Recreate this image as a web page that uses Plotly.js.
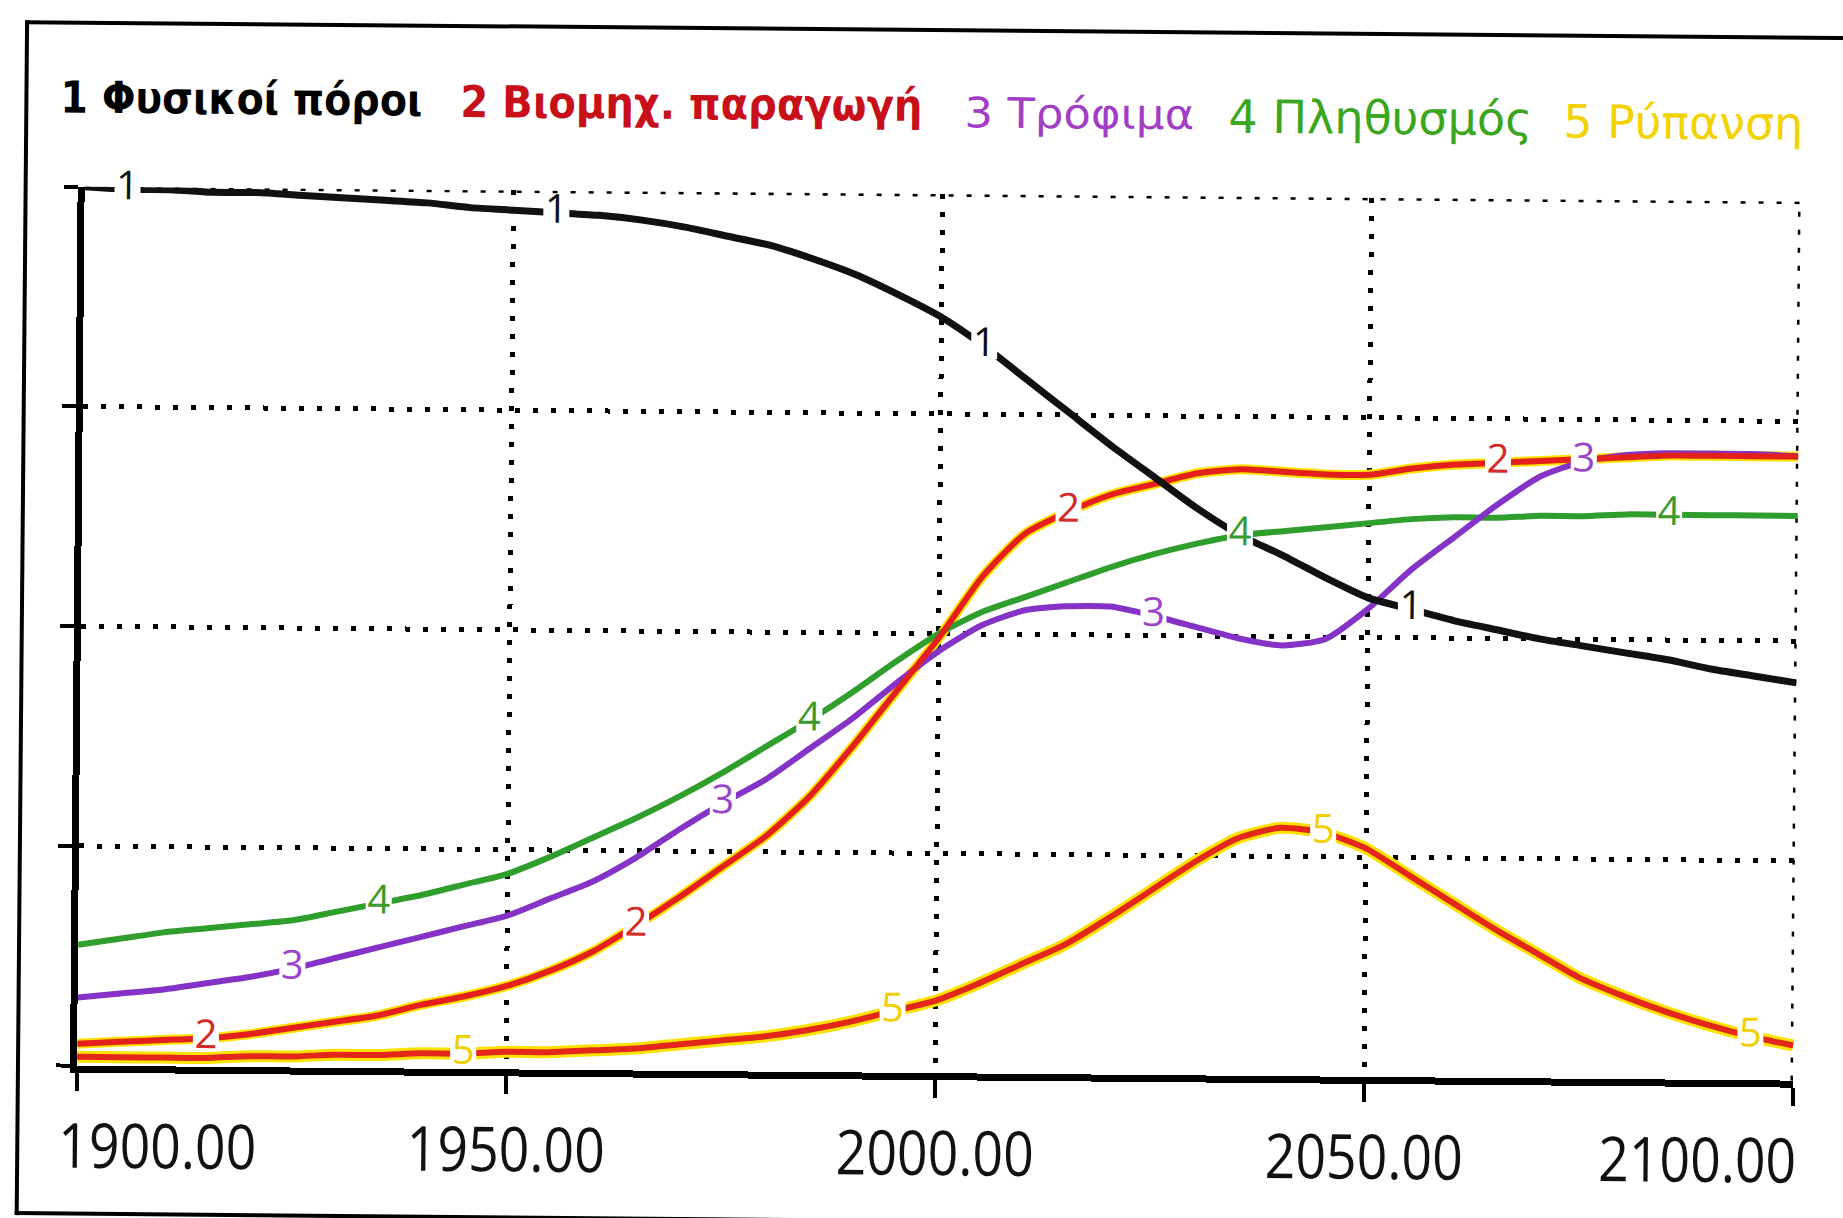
<!DOCTYPE html>
<html>
<head>
<meta charset="utf-8">
<script src="https://cdn.plot.ly/plotly-3.0.1.min.js"></script>
<style>
html,body{margin:0;padding:0;background:#fff;overflow:hidden;width:1843px;height:1218px;}
#wrap{position:absolute;left:0;top:0;width:1843px;height:1218px;transform:rotate(0.5deg);transform-origin:921px 609px;}
#chart{position:absolute;left:0;top:0;width:1843px;height:1218px;}
#frame{position:absolute;left:20px;top:28px;width:1900px;height:1187px;border:4px solid #000;border-right:none;pointer-events:none;}
</style>
</head>
<body>
<div id="wrap"><div id="chart"></div><div id="frame"></div></div>
<script>
// ---- data ----
const years = [1900,1905,1910,1915,1920,1925,1930,1935,1940,1945,1950,1955,1960,1965,1970,1975,1980,1985,1990,1995,
               2000,2005,2010,2015,2020,2025,2030,2035,2040,2045,2050,2055,2060,2065,2070,2075,2080,2085,2090,2095,2100];

const resources  = [4.00,3.99,3.99,3.98,3.98,3.97,3.96,3.95,3.94,3.92,3.91,3.90,3.89,3.87,3.84,3.80,3.76,3.70,3.63,3.54,
                    3.44,3.31,3.16,3.01,2.86,2.72,2.58,2.46,2.37,2.27,2.18,2.13,2.08,2.04,2.00,1.97,1.94,1.91,1.87,1.84,1.81];
const industry   = [0.10,0.11,0.12,0.13,0.15,0.18,0.21,0.24,0.29,0.33,0.38,0.45,0.54,0.66,0.79,0.93,1.07,1.25,1.48,1.73,
                    1.98,2.26,2.46,2.56,2.64,2.69,2.74,2.76,2.75,2.74,2.74,2.77,2.79,2.80,2.81,2.82,2.83,2.84,2.84,2.84,2.84];
const food       = [0.31,0.33,0.35,0.38,0.41,0.45,0.50,0.55,0.60,0.65,0.70,0.78,0.86,0.97,1.10,1.22,1.33,1.47,1.61,1.77,
                    1.92,2.04,2.11,2.13,2.13,2.09,2.04,1.99,1.96,1.99,2.13,2.31,2.46,2.61,2.74,2.81,2.84,2.85,2.85,2.85,2.84];
const population = [0.55,0.58,0.61,0.63,0.65,0.67,0.71,0.75,0.79,0.84,0.89,0.97,1.06,1.15,1.25,1.36,1.48,1.60,1.73,1.87,
                    2.00,2.10,2.17,2.24,2.31,2.37,2.42,2.46,2.48,2.50,2.52,2.54,2.55,2.55,2.56,2.56,2.57,2.57,2.57,2.57,2.57];
const pollution  = [0.04,0.04,0.04,0.04,0.05,0.05,0.06,0.06,0.07,0.07,0.08,0.08,0.09,0.10,0.12,0.14,0.16,0.19,0.23,0.28,
                    0.33,0.41,0.50,0.59,0.71,0.84,0.97,1.08,1.13,1.11,1.04,0.92,0.80,0.68,0.57,0.46,0.38,0.31,0.25,0.20,0.16];

const seriesNumbers = ['1','2','3','4','5'];
const seriesNames   = ['Φυσικοί πόροι','Βιομηχ. παραγωγή','Τρόφιμα','Πληθυσμός','Ρύπανση'];

const labelYears1 = [1905,1955,2005,2055];
const labelYears2 = [1915,1965,2015,2065];
const labelYears3 = [1925,1975,2025,2075];
const labelYears4 = [1935,1985,2035,2085];
const labelYears5 = [1945,1995,2045,2095];

const xTickYears  = [1900,1950,2000,2050,2100];
const xTickLabels = ['1900.00','1950.00','2000.00','2050.00','2100.00'];
const yTickVals   = [0,1,2,3,4];

// ---- styles ----
const lineColors  = ['#111111','#e3201b','#8533c6','#2f9e2c','#e3281b'];
const haloColor   = '#ffe200';
const labelColors = ['#111111','#d42a2a','#9a45c8','#3a9a2c','#f0cf00'];
const legendColors= ['#000000','#c8101a','#a23ec6','#3aa620','#f2d200'];

const allSeries = [resources, industry, food, population, pollution];
const allLabelYears = [labelYears1, labelYears2, labelYears3, labelYears4, labelYears5];

const traces = [];
// yellow halos under series 2 and 5
traces.push({x: years, y: industry, mode: 'lines', line: {color: haloColor, width: 10, shape: 'spline', smoothing: 0.6}, hoverinfo: 'skip', showlegend: false});
traces.push({x: years, y: pollution, mode: 'lines', line: {color: haloColor, width: 12, shape: 'spline', smoothing: 0.6}, hoverinfo: 'skip', showlegend: false});

const widths = [7, 6, 6, 6, 6];
const drawOrder = [3, 2, 4, 1, 0];
drawOrder.forEach(i => {
  traces.push({
    x: years, y: allSeries[i], mode: 'lines', name: seriesNames[i],
    line: {color: lineColors[i], width: widths[i], shape: 'spline', smoothing: 0.6},
    showlegend: false
  });
});

// number labels on the curves (values looked up from the series)
allSeries.forEach((vals, i) => {
  const ly = allLabelYears[i];
  traces.push({
    x: ly,
    y: ly.map(yr => vals[years.indexOf(yr)]),
    mode: 'markers+text',
    text: ly.map(() => seriesNumbers[i]),
    textposition: 'middle center',
    textfont: {family: 'Open Sans, sans-serif', size: 40, color: labelColors[i]},
    marker: {symbol: 'square', size: 26, color: '#ffffff', line: {width: 0}},
    cliponaxis: false,
    hoverinfo: 'skip',
    showlegend: false
  });
});

// plot-area geometry (pixels) used for paper coordinates of text
const L = 81, R = 1797, T = 194, B = 1073;
const px2paperX = px => (px - L) / (R - L);
const px2paperY = py => (B - py) / (B - T);

const annotations = [];
const fitWidths = [];
// legend line at top
const legendLeft   = [54, 454, 958, 1222, 1557];
const legendMidY   = [105, 106, 112, 114, 116];
const legendWidths = [362, 462, 230, 304, 240];
const legendSizes  = [44, 44, 42, 46, 46];
seriesNames.forEach((nm, i) => {
  const bold = i < 2;
  annotations.push({
    xref: 'paper', yref: 'paper',
    x: px2paperX(legendLeft[i]), y: px2paperY(legendMidY[i]),
    xanchor: 'left', yanchor: 'middle', align: 'left', showarrow: false,
    text: bold ? '<b>' + seriesNumbers[i] + ' ' + nm + '</b>' : seriesNumbers[i] + ' ' + nm,
    font: {family: 'DejaVu Sans, sans-serif', size: legendSizes[i], color: legendColors[i]}
  });
  fitWidths.push(legendWidths[i]);
});
// x tick labels
xTickYears.forEach((yr, k) => {
  const first = k === 0, last = k === xTickYears.length - 1;
  const side = first ? 'left' : (last ? 'right' : 'center');
  annotations.push({
    xref: 'x', yref: 'paper', x: yr, y: 0,
    xanchor: side, align: side,
    xshift: first ? -20 : (last ? 6 : 0),
    yanchor: 'middle', yshift: -78, showarrow: false,
    text: xTickLabels[k],
    font: {family: 'Open Sans, sans-serif', size: 62, color: '#111111'}
  });
  fitWidths.push(198);
});

const gridDash = '5px,13px';
const layout = {
  width: 1843, height: 1218,
  margin: {l: L, r: 1843 - R, t: T, b: 1218 - B},
  paper_bgcolor: 'rgba(0,0,0,0)', plot_bgcolor: '#ffffff',
  showlegend: false, hovermode: false,
  xaxis: {
    range: [1900, 2100], tickmode: 'array', tickvals: xTickYears, showticklabels: false,
    showline: true, linecolor: '#000', linewidth: 7,
    ticks: 'outside', ticklen: 18, tickwidth: 4, tickcolor: '#000',
    showgrid: true, gridcolor: '#000', gridwidth: 5, griddash: gridDash, zeroline: false, fixedrange: true
  },
  yaxis: {
    range: [0, 4], tickmode: 'array', tickvals: yTickVals, showticklabels: false,
    showline: true, linecolor: '#000', linewidth: 7,
    ticks: 'outside', ticklen: 14, tickwidth: 4, tickcolor: '#000',
    showgrid: true, gridcolor: '#000', gridwidth: 5, griddash: gridDash, zeroline: false, fixedrange: true
  },
  shapes: [
    {type: 'line', xref: 'x', yref: 'paper', x0: xTickYears[xTickYears.length - 1], x1: xTickYears[xTickYears.length - 1], y0: 0, y1: 1,
     line: {color: '#000', width: 5, dash: gridDash}, layer: 'below'},
    {type: 'line', xref: 'paper', yref: 'y', x0: 0, x1: 1, y0: yTickVals[yTickVals.length - 1], y1: yTickVals[yTickVals.length - 1],
     line: {color: '#000', width: 5, dash: gridDash}, layer: 'below'}
  ],
  annotations: annotations
};

Plotly.newPlot('chart', traces, layout, {staticPlot: true, displayModeBar: false}).then(gd => {
  // condense the annotation texts horizontally to the widths seen in the reference,
  // and shrink each annotation's (invisible) background box to the condensed text
  const groups = gd.querySelectorAll('.annotation');
  groups.forEach((g, idx) => {
    const t = g.querySelector('text.annotation-text');
    if (t && fitWidths[idx]) {
      t.setAttribute('textLength', fitWidths[idx]);
      t.setAttribute('lengthAdjust', 'spacingAndGlyphs');
      const bg = g.querySelector('rect.bg');
      if (bg) {
        const bb = t.getBBox();
        bg.setAttribute('x', bb.x);
        bg.setAttribute('y', bb.y);
        bg.setAttribute('width', bb.width);
        bg.setAttribute('height', bb.height);
      }
    }
  });
});
</script>
</body>
</html>
